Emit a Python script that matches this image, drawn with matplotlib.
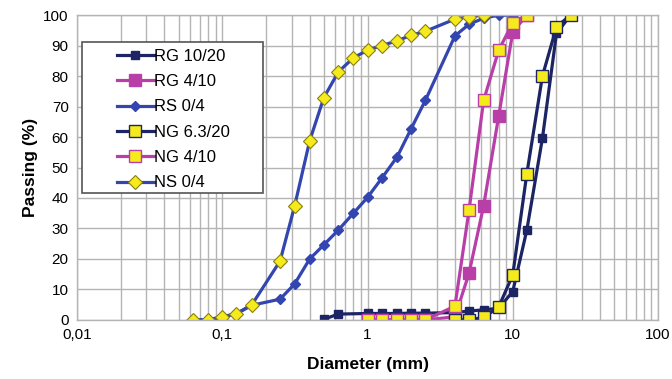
import numpy as np
from matplotlib import pyplot as plt
from matplotlib.patches import Rectangle
from matplotlib.ticker import FixedLocator, FuncFormatter, LogLocator, NullFormatter

plt.rcParams['font.family'] = ['Liberation Sans', 'DejaVu Sans']

# sieve sizes (mm) and passing (%) for each material
rg1020_d = [0.5, 0.63, 1, 1.25, 1.6, 2, 2.5, 4, 5, 6.3, 8, 10, 12.5, 16, 20, 25]
rg1020_p = [0.2, 1.9, 2.1, 2.1, 2.1, 2.2, 2.2, 2.4, 2.9, 3.3, 3.8, 9.3, 29.5, 59.6, 94, 100]

rg410_d = [1, 1.25, 1.6, 2, 2.5, 4, 5, 6.3, 8, 10, 12.5]
rg410_p = [0, 0, 0, 0, 0, 1, 15.3, 37.4, 66.9, 94.5, 100]

rs04_d = [0.063, 0.08, 0.1, 0.125, 0.16, 0.25, 0.315, 0.4, 0.5, 0.63, 0.8, 1, 1.25, 1.6, 2, 2.5, 4, 5, 6.3, 8, 10]
rs04_p = [0, 0, 1, 2, 4.8, 6.8, 11.8, 20, 24.6, 29.5, 35, 40.2, 46.4, 53.5, 62.8, 72, 93.2, 97, 99, 100, 100]

ng6320_d = [4, 5, 6.3, 8, 10, 12.5, 16, 20, 25]
ng6320_p = [0, 0, 0.8, 4.2, 14.8, 48, 80, 96.2, 100]

ng410_d = [1, 1.25, 1.6, 2, 2.5, 4, 5, 6.3, 8, 10, 12.5]
ng410_p = [0, 0, 0, 0, 0, 4.5, 36, 72, 88.5, 97.5, 100]

ns04_d = [0.063, 0.08, 0.1, 0.125, 0.16, 0.25, 0.315, 0.4, 0.5, 0.63, 0.8, 1, 1.25, 1.6, 2, 2.5, 4, 5, 6.3]
ns04_p = [0, 0, 1, 2, 5, 19.3, 37.4, 58.8, 72.9, 81.4, 86, 88.5, 90, 91.6, 93.4, 94.7, 98.7, 99.5, 100]

navy = '#1c2463'
magenta = '#b93fa8'
blue = '#3346b0'
yellow = '#f5ea1c'

fig = plt.figure(figsize=(6.72, 3.79), dpi=100)
ax = fig.add_axes([0.1146, 0.156, 0.8646, 0.804])

lw = 2.3
ax.plot(rg1020_d, rg1020_p, color=navy, lw=lw, marker='s', ms=6, mfc=navy, mec=navy, label='RG 10/20')
ax.plot(rg410_d, rg410_p, color=magenta, lw=lw, marker='s', ms=8, mfc=magenta, mec=magenta, label='RG 4/10')
ax.plot(rs04_d, rs04_p, color=blue, lw=lw, marker='D', ms=5.5, mfc=blue, mec=blue, label='RS 0/4')
ax.plot(ng6320_d, ng6320_p, color=navy, lw=lw, marker='s', ms=8, mfc=yellow, mec=navy, mew=1, label='NG 6.3/20')
ax.plot(ng410_d, ng410_p, color=magenta, lw=lw, marker='s', ms=8, mfc=yellow, mec=magenta, mew=1, label='NG 4/10')
ax.plot(ns04_d, ns04_p, color=blue, lw=lw, marker='D', ms=7, mfc=yellow, mec='#8a7f10', mew=0.8, label='NS 0/4')

ax.set_xscale('log')
ax.set_xlim(0.01, 100)
ax.set_ylim(0, 100)
ax.xaxis.set_major_locator(FixedLocator([0.01, 0.1, 1, 10, 100]))
ax.xaxis.set_major_formatter(FuncFormatter(lambda v, p: ('%g' % v).replace('.', ',')))
ax.xaxis.set_minor_locator(LogLocator(base=10, subs=np.arange(2, 10)))
ax.xaxis.set_minor_formatter(NullFormatter())
ax.set_yticks(np.arange(0, 101, 10))

ax.grid(True, which='both', axis='x', color='#b4b4b4', lw=1)
ax.grid(True, which='major', axis='y', color='#b4b4b4', lw=1)
ax.set_axisbelow(True)
for s in ax.spines.values():
    s.set_color('#b4b4b4')
    s.set_linewidth(1)
ax.tick_params(which='both', length=0, labelsize=11, pad=6)

ax.set_xlabel('Diameter (mm)', fontsize=12.5, fontweight='bold', labelpad=11)
ax.set_ylabel('Passing (%)', fontsize=12.5, fontweight='bold', labelpad=4)

# legend box drawn by hand so it can be wider than its entries
ax.add_patch(Rectangle((0.0086, 0.416), 0.311, 0.495, transform=ax.transAxes,
                       facecolor='white', edgecolor='#555555', lw=1.2, zorder=4))
leg = ax.legend(loc='upper left', bbox_to_anchor=(0.0688, 0.89), fontsize=12,
                frameon=False, handlelength=2.2, handletextpad=0.05,
                borderpad=0, labelspacing=0.62, borderaxespad=0)
leg.set_zorder(5)

fig.savefig('out.png', dpi=100)
